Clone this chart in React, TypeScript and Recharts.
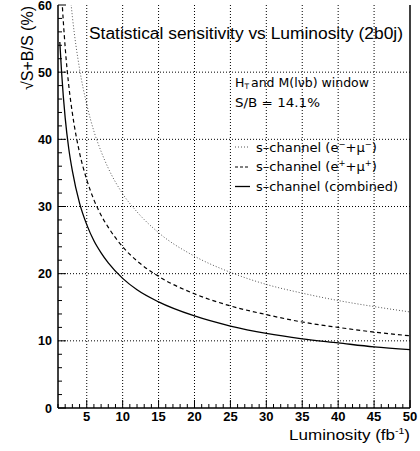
import { LineChart, Line, XAxis, YAxis, ReferenceLine } from "recharts";

// integrated luminosity (fb^-1)
const luminosity = [1.25, 1.5, 2, 2.5, 3, 4, 5, 6, 7, 8, 10, 12, 15, 20, 25, 30, 35, 40, 45, 50];

// sqrt(S+B)/S in %
const sensNegative = [90, 82.5, 71.4, 63.9, 58.3, 50.5, 45.2, 41.2, 38.2, 35.7, 31.9, 29.2, 26.1, 22.6, 20.2, 18.4, 17.1, 16.0, 15.1, 14.3];
const sensPositive = [68, 62, 53.7, 48, 43.9, 38, 34, 31, 28.7, 26.9, 24, 21.9, 19.6, 17, 15.2, 13.9, 12.8, 12, 11.3, 10.75];
const sensCombined = [54.5, 50, 43.2, 38.6, 35.3, 30.5, 27.3, 24.9, 23.1, 21.6, 19.3, 17.6, 15.8, 13.7, 12.2, 11.1, 10.3, 9.7, 9.1, 8.7];

const xTicks = Array.from({ length: 50 }, (_, i) => i + 1);
const yTicks = Array.from({ length: 31 }, (_, i) => i * 2);
const xGrid = [5, 10, 15, 20, 25, 30, 35, 40, 45];
const yGrid = [10, 20, 30, 40, 50];

const rows = luminosity.map((lum, i) => ({
  lum,
  neg: sensNegative[i],
  pos: sensPositive[i],
  comb: sensCombined[i],
}));

const FONT = "'Liberation Sans', Arial, sans-serif";
const LEG_FONT = "'DejaVu Sans', sans-serif";

const BottomTick = (props: any) => {
  const { x, y, payload } = props;
  const major = payload.value % 5 === 0;
  return (
    <g>
      <line x1={x} x2={x} y1={y} y2={y - (major ? 8 : 4)} stroke="#000" />
      {major && (
        <text x={x} y={y + 13} textAnchor="middle" fontFamily={FONT} fontSize={13} fontWeight="bold" fill="#000">
          {payload.value}
        </text>
      )}
    </g>
  );
};

const TopTick = (props: any) => {
  const { x, y, payload } = props;
  const major = payload.value % 5 === 0;
  return <line x1={x} x2={x} y1={y} y2={y + (major ? 8 : 4)} stroke="#000" />;
};

const LeftTick = (props: any) => {
  const { x, y, payload } = props;
  const major = payload.value % 10 === 0;
  return (
    <g>
      <line x1={x} x2={x + (major ? 8 : 4)} y1={y} y2={y} stroke="#000" />
      {major && (
        <text x={x - 6} y={y + 4.5} textAnchor="end" fontFamily={FONT} fontSize={12.5} fontWeight="bold" fill="#000">
          {payload.value}
        </text>
      )}
    </g>
  );
};

const RightTick = (props: any) => {
  const { x, y, payload } = props;
  const major = payload.value % 10 === 0;
  return <line x1={x} x2={x - (major ? 8 : 4)} y1={y} y2={y} stroke="#000" />;
};

export default function App() {
  return (
    <div style={{ position: "absolute", left: 0, top: 0, width: 420, height: 451, background: "#fff" }}>
      <LineChart width={420} height={451} data={rows} margin={{ top: 5, right: 0, bottom: 0, left: 0 }}>
        {xGrid.map((v) => (
          <ReferenceLine key={"gx" + v} x={v} stroke="#000" strokeDasharray="1 2" strokeWidth={1} />
        ))}
        {yGrid.map((v) => (
          <ReferenceLine key={"gy" + v} y={v} stroke="#000" strokeDasharray="1 2" strokeWidth={1} />
        ))}
        <XAxis
          dataKey="lum"
          type="number"
          domain={[1, 50]}
          ticks={xTicks}
          interval={0}
          height={43}
          tickSize={0}
          tickMargin={0}
          tick={<BottomTick />}
          axisLine={{ stroke: "#000", strokeWidth: 1.5 }}
          allowDataOverflow
        />
        <XAxis
          xAxisId="top"
          orientation="top"
          dataKey="lum"
          type="number"
          domain={[1, 50]}
          ticks={xTicks}
          interval={0}
          height={0}
          tickSize={0}
          tickMargin={0}
          tick={<TopTick />}
          axisLine={{ stroke: "#000", strokeWidth: 1.5 }}
        />
        <YAxis
          type="number"
          domain={[0, 60]}
          ticks={yTicks}
          interval={0}
          width={58}
          tickSize={0}
          tickMargin={0}
          tick={<LeftTick />}
          axisLine={{ stroke: "#000", strokeWidth: 1.5 }}
          allowDataOverflow
        />
        <YAxis
          yAxisId="right"
          orientation="right"
          type="number"
          domain={[0, 60]}
          ticks={yTicks}
          interval={0}
          width={10}
          tickSize={0}
          tickMargin={0}
          tick={<RightTick />}
          axisLine={{ stroke: "#000", strokeWidth: 1.5 }}
        />
        <Line type="monotone" dataKey="neg" stroke="#555" strokeWidth={1} strokeDasharray="1 2" dot={false} isAnimationActive={false} />
        <Line type="monotone" dataKey="pos" stroke="#000" strokeWidth={1.2} strokeDasharray="4 3" dot={false} isAnimationActive={false} />
        <Line type="monotone" dataKey="comb" stroke="#000" strokeWidth={1.3} dot={false} isAnimationActive={false} />
      </LineChart>
      <svg width={420} height={451} style={{ position: "absolute", left: 0, top: 0, pointerEvents: "none" }}>
        <g fontFamily={FONT} fill="#000">
          <text x={89} y={38.5} fontSize={16} textLength={314} lengthAdjust="spacingAndGlyphs">
            Statistical sensitivity vs Luminosity (2b0j)
          </text>
          <text x={289} y={440} fontSize={15.5} textLength={121} lengthAdjust="spacingAndGlyphs">
            Luminosity (fb<tspan fontSize={9.5} dy={-6}>-1</tspan><tspan dy={6}>)</tspan>
          </text>
          <text transform="translate(33,6) rotate(-90)" fontSize={16} textAnchor="end">
            √S+B/S (%)
          </text>
        </g>
        <g fontFamily={LEG_FONT} fill="#000">
          <text x={235} y={86.5} fontSize={12.5}>H</text>
          <text x={244.5} y={88.5} fontSize={7.5}>T</text>
          <text x={251} y={86.5} fontSize={12.5} textLength={118} lengthAdjust="spacingAndGlyphs">
            and M(lνb) window
          </text>
          <text x={235} y={106.5} fontSize={12.5} textLength={85} lengthAdjust="spacingAndGlyphs">
            S/B = 14.1%
          </text>
          <line x1={235} x2={250} y1={147} y2={147} stroke="#555" strokeDasharray="1 2" />
          <line x1={235} x2={250} y1={167} y2={167} stroke="#000" strokeDasharray="3 2" />
          <line x1={235} x2={250} y1={186.5} y2={186.5} stroke="#000" strokeWidth={1.3} />
          <text x={256} y={151.5} fontSize={12.5} textLength={121} lengthAdjust="spacingAndGlyphs">
            s–channel (e<tspan fontSize={8} dy={-5}>−</tspan><tspan dy={5}>+μ</tspan>
            <tspan fontSize={8} dy={-5}>−</tspan><tspan dy={5}>)</tspan>
          </text>
          <text x={256} y={171} fontSize={12.5} textLength={121} lengthAdjust="spacingAndGlyphs">
            s–channel (e<tspan fontSize={8} dy={-5}>+</tspan><tspan dy={5}>+μ</tspan>
            <tspan fontSize={8} dy={-5}>+</tspan><tspan dy={5}>)</tspan>
          </text>
          <text x={256} y={191} fontSize={12.5} textLength={142} lengthAdjust="spacingAndGlyphs">
            s–channel (combined)
          </text>
        </g>
      </svg>
    </div>
  );
}
